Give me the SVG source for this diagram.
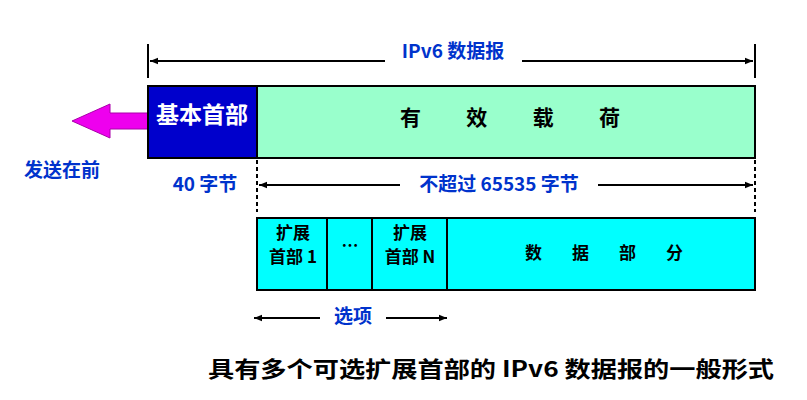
<svg xmlns="http://www.w3.org/2000/svg" width="807" height="400" viewBox="0 0 807 400">
<style>
text{font-family:"Noto Sans CJK SC","Liberation Sans",sans-serif;font-weight:bold}
.b{fill:#0033cc;font-size:19px}
.k{fill:#000;font-size:17px}
.ln{stroke:#000;stroke-width:2;fill:none}
.box{stroke:#000;stroke-width:2}
</style>
<defs>
<marker id="a" viewBox="0 0 10 10" refX="10" refY="5" markerWidth="8" markerHeight="8" orient="auto-start-reverse" markerUnits="userSpaceOnUse"><path d="M0,1 L10,5 L0,9 z" fill="#000"/></marker>
</defs>
<rect width="807" height="400" fill="#fff"/>
<g id="connectors">
<line class="ln" x1="148" y1="44" x2="148" y2="78"/>
<line class="ln" x1="755" y1="44" x2="755" y2="78"/>
<line class="ln" x1="150" y1="61" x2="385" y2="61" marker-start="url(#a)"/>
<line class="ln" x1="522" y1="61" x2="753" y2="61" marker-end="url(#a)"/>
<line class="ln" x1="257" y1="160" x2="257" y2="212" stroke-dasharray="4,3"/>
<line class="ln" x1="755" y1="160" x2="755" y2="212" stroke-dasharray="4,3"/>
<line class="ln" x1="259" y1="185" x2="400" y2="185" marker-start="url(#a)"/>
<line class="ln" x1="598" y1="185" x2="753" y2="185" marker-end="url(#a)"/>
<line class="ln" x1="254" y1="318" x2="320" y2="318" marker-start="url(#a)"/>
<line class="ln" x1="386" y1="318" x2="447" y2="318" marker-end="url(#a)"/>
<path d="M148,113 L110,113 L110,104 L72,121 L110,138 L110,129 L148,129 Z" fill="#ee00ee" stroke="#aa00aa" stroke-width="1"/>
</g>
<g id="title"><text class="b" x="453" y="58" text-anchor="middle">IPv6 数据报</text></g>
<g id="base"><rect class="box" x="148" y="86" width="109" height="72" fill="#0000cc"/><text x="202" y="123" text-anchor="middle" fill="#fff" font-size="23">基本首部</text></g>
<g id="payload"><rect class="box" x="257" y="86" width="498" height="72" fill="#99ffcc"/><text x="400" y="125" font-size="21" fill="#000" textLength="220" lengthAdjust="spacing">有效载荷</text></g>
<g id="send"><text class="b" x="24" y="177">发送在前</text></g>
<g id="len40"><text class="b" x="205" y="191" text-anchor="middle">40 字节</text></g>
<g id="max"><text class="b" x="499" y="191" text-anchor="middle">不超过 65535 字节</text></g>
<g id="ext">
<rect class="box" x="257" y="218" width="498" height="72" fill="#00ffff"/>
<line class="ln" x1="327" y1="218" x2="327" y2="290"/>
<line class="ln" x1="372" y1="218" x2="372" y2="290"/>
<line class="ln" x1="447" y1="218" x2="447" y2="290"/>
<text class="k" x="293" y="239" text-anchor="middle">扩展</text>
<text class="k" x="293" y="263" text-anchor="middle">首部 1</text>
<text class="k" x="350" y="252" text-anchor="middle">…</text>
<text class="k" x="410" y="239" text-anchor="middle">扩展</text>
<text class="k" x="410" y="263" text-anchor="middle">首部 N</text>
<text class="k" x="525" y="259" textLength="158" lengthAdjust="spacing">数据部分</text>
</g>
<g id="opt"><text class="b" x="353" y="323" text-anchor="middle">选项</text></g>
<g id="caption"><text x="491" y="377" text-anchor="middle" font-size="22" fill="#000" textLength="566" lengthAdjust="spacingAndGlyphs">具有多个可选扩展首部的 IPv6 数据报的一般形式</text></g>
</svg>
